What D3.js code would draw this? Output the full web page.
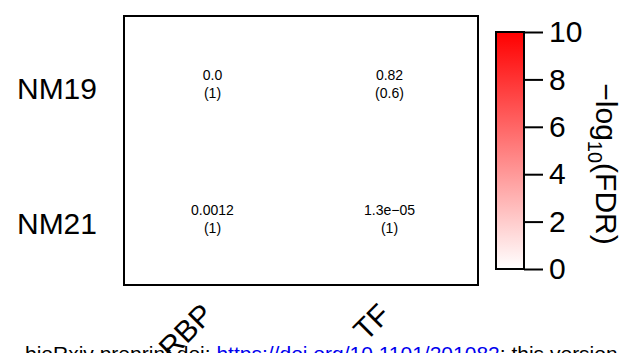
<!DOCTYPE html>
<html>
<head>
<meta charset="utf-8">
<script src="https://cdn.jsdelivr.net/npm/d3@7"></script>
<style>
  html, body { margin: 0; padding: 0; background: #fff; }
  svg { display: block; font-family: "Liberation Sans", Arial, Helvetica, sans-serif; }
</style>
</head>
<body>
<svg id="chart" width="621" height="353"></svg>
<script>
// ---- data ----
const rowNames = ["NM19", "NM21"];
const colNames = ["RBP", "TF"];
// overlap statistic shown in each cell (row-major)
const cellStat = [["0.0", "0.82"], ["0.0012", "1.3e\u221205"]];
// FDR shown in parentheses (row-major)
const cellFDR = [[1, 0.6], [1, 1]];
const legendTicks = [0, 2, 4, 6, 8, 10];
const legendDomain = [0, 10];

// ---- layout ----
const svg = d3.select("#chart");
const box = { left: 124, right: 478, top: 16, bottom: 285 };
const bar = { left: 496, right: 524, top: 32, bottom: 269 };

const x = d3.scaleBand().domain(colNames).range([box.left, box.right]);
const y = d3.scaleBand().domain(rowNames).range([box.top, box.bottom]);
const colorSteps = d3.range(20).map(i => d3.interpolateRgb("#ffffff", "#ff0000")(i / 19));
const color = d3.scaleQuantize().domain(legendDomain).range(colorSteps);

// footer watermark (mostly cut off)
const foot = svg.append("text").attr("x", 25).attr("y", 361)
  .attr("font-size", 21).attr("fill", "#000");
foot.append("tspan").text("bioRxiv preprint doi: ");
foot.append("tspan").attr("fill", "#0000ee").text("https://doi.org/10.1101/201082");
foot.append("tspan").text("; this version posted October 11, 2017.");

// cells
const cells = [];
rowNames.forEach((r, i) => colNames.forEach((c, j) => {
  cells.push({ r, c, stat: cellStat[i][j], fdr: cellFDR[i][j], v: -Math.log10(cellFDR[i][j]) });
}));

svg.append("g").selectAll("rect").data(cells).join("rect")
  .attr("x", d => x(d.c)).attr("y", d => y(d.r))
  .attr("width", x.bandwidth()).attr("height", y.bandwidth())
  .attr("fill", d => color(d.v));

const lab = svg.append("g").attr("font-size", 14).attr("text-anchor", "middle").attr("fill", "#000");
lab.selectAll("text.stat").data(cells).join("text").attr("class", "stat")
  .attr("x", d => x(d.c) + x.bandwidth() / 2)
  .attr("y", d => y(d.r) + y.bandwidth() / 2 - 3)
  .text(d => d.stat);
lab.selectAll("text.fdr").data(cells).join("text").attr("class", "fdr")
  .attr("x", d => x(d.c) + x.bandwidth() / 2)
  .attr("y", d => y(d.r) + y.bandwidth() / 2 + 15)
  .text(d => "(" + d.fdr + ")");

// frame
svg.append("rect").attr("x", box.left).attr("y", box.top)
  .attr("width", box.right - box.left).attr("height", box.bottom - box.top)
  .attr("fill", "none").attr("stroke", "#000").attr("stroke-width", 2);

// row labels
svg.append("g").attr("font-size", 30).attr("text-anchor", "end")
  .selectAll("text").data(rowNames).join("text")
  .attr("x", 97).attr("y", d => y(d) + y.bandwidth() / 2 + 16)
  .text(d => d);

// column labels
svg.append("g").attr("font-size", 30).attr("text-anchor", "end")
  .selectAll("text").data(colNames).join("text")
  .attr("transform", d => `translate(${x(d) + x.bandwidth() / 2 - 5},${box.bottom + 24}) rotate(-45)`)
  .attr("dy", "0.35em")
  .text(d => d);

// color bar
const defs = svg.append("defs");
const grad = defs.append("linearGradient").attr("id", "grad")
  .attr("x1", 0).attr("y1", 1).attr("x2", 0).attr("y2", 0);
grad.append("stop").attr("offset", "0%").attr("stop-color", "#ffffff");
grad.append("stop").attr("offset", "100%").attr("stop-color", "#ff0000");

const ly = d3.scaleLinear().domain(legendDomain).range([bar.bottom, bar.top]);
svg.append("rect").attr("x", bar.left).attr("y", bar.top)
  .attr("width", bar.right - bar.left).attr("height", bar.bottom - bar.top)
  .attr("fill", "url(#grad)").attr("stroke", "#000").attr("stroke-width", 2);

const axis = d3.axisRight(ly).tickValues(legendTicks).tickSize(19).tickPadding(6).tickFormat(d3.format("d"));
const ag = svg.append("g").attr("transform", `translate(${bar.right},0)`).call(axis);
ag.select(".domain").remove();
ag.selectAll(".tick line").attr("stroke", "#000").attr("stroke-width", 2);
ag.selectAll(".tick text").attr("font-size", 30).attr("fill", "#000")
  .attr("font-family", "'Liberation Sans', Arial, sans-serif");

// legend title
const t = svg.append("text").attr("transform", "translate(596,164) rotate(90)")
  .attr("text-anchor", "middle").attr("font-size", 30).attr("fill", "#000");
t.append("tspan").text("\u2212log");
t.append("tspan").attr("font-size", 20).attr("dy", 8).text("10");
t.append("tspan").attr("dy", -8).text("(FDR)");
</script>
</body>
</html>
